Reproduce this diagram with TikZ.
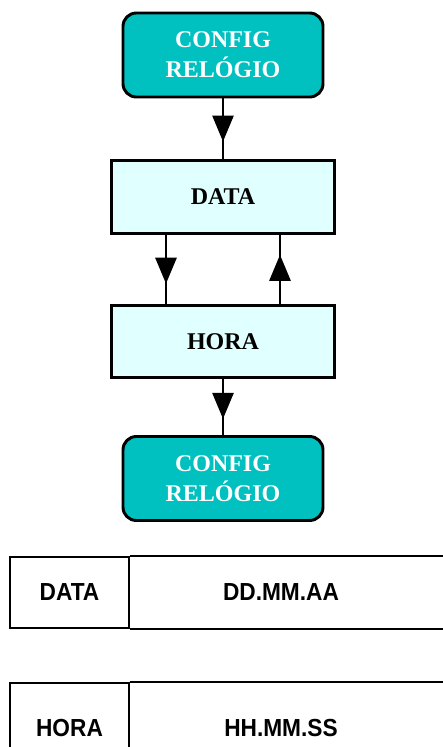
\documentclass[tikz,border=0pt]{standalone}
\usepackage{fontspec}
\setmainfont{Liberation Serif}
\newfontfamily\cellfont[FakeStretch=0.92]{Liberation Sans}
\usetikzlibrary{arrows.meta,decorations.markings,calc}

\definecolor{cfgteal}{RGB}{0,192,192}
\definecolor{boxcyan}{RGB}{224,255,255}

\tikzset{
  cfgbox/.style={draw,line width=2.2pt,rounded corners=10pt,fill=cfgteal,text=white,
    minimum width=150pt,minimum height=63pt,align=center,inner sep=0pt,
    font=\fontsize{18}{22.5}\selectfont\bfseries},
  stepbox/.style={draw,line width=2.2pt,fill=boxcyan,minimum width=167pt,minimum height=54.5pt,
    font=\fontsize{18}{22}\selectfont\bfseries},
  flow/.style={line width=2pt,postaction={decorate},
    decoration={markings,mark=at position 0.71 with {\arrow{Triangle[length=19.5pt,width=15.75pt]}}}},
  keycell/.style={draw,line width=1.5pt,minimum width=89.25pt,minimum height=53.25pt,
    font=\cellfont\fontsize{18.5}{22}\selectfont\bfseries},
  valcell/.style={font=\cellfont\fontsize{18.5}{22}\selectfont\bfseries}
}

\begin{document}
\begin{tikzpicture}[x=0.75pt,y=0.75pt,yscale=-1,xscale=1]
	\useasboundingbox (0,0) rectangle (443,747);
	\clip (0,0) rectangle (443,747);

	%Shape: Rounded Rect [id:cfgtop]
	\node[cfgbox] (cfgtop) at (223,55) {CONFIG\\RELÓGIO};
	%Shape: Rectangle [id:data]
	\node[stepbox] (data) at (223,197) {DATA};
	%Shape: Rectangle [id:hora]
	\node[stepbox] (hora) at (223,341.5) {HORA};
	%Shape: Rounded Rect [id:cfgbot]
	\node[cfgbox] (cfgbot) at (223,478.5) {CONFIG\\RELÓGIO};

	%Straight Lines
	\draw[flow] (cfgtop) -- (data);
	\draw[flow] ($(data.south)+(-57,0)$) -- ($(hora.north)+(-57,0)$);
	\draw[flow] ($(hora.north)+(57,0)$) -- ($(data.south)+(57,0)$);
	\draw[flow] (hora) -- (cfgbot);

	% Table: data
	\node[keycell] (datakey) at (69.5,592.5) {DATA};
	\node[valcell] (dataval) at (281,592.5) {DD.MM.AA};
	\draw[line width=1.5pt] (datakey.north east) -- ++(340,0);
	\draw[line width=1.5pt] (datakey.south east) -- ++(340,0);

	% Table: hora
	\node[keycell,minimum height=67.5pt] (horakey) at (69.5,728) {HORA};
	\node[valcell] (horaval) at (281,728) {HH.MM.SS};
	\draw[line width=1.5pt] (horakey.north east) -- ++(340,0);

\end{tikzpicture}
\end{document}
